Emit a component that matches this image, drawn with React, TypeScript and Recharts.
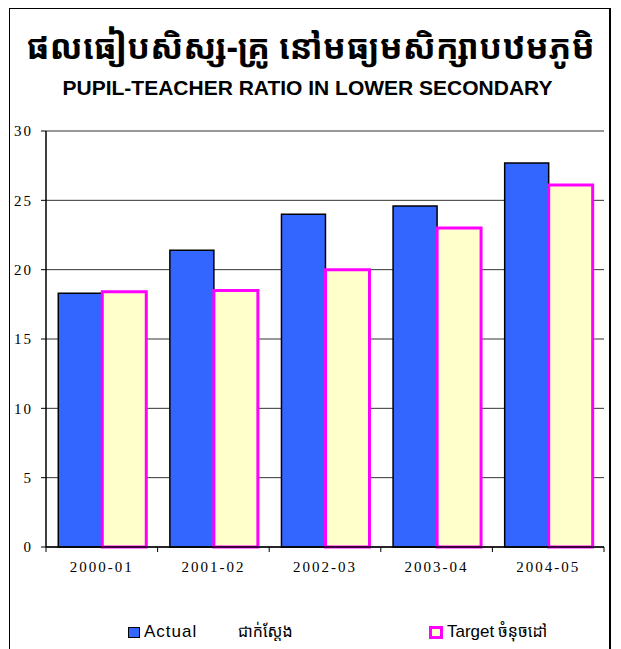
import React from 'react';
import { BarChart, Bar, XAxis, YAxis, CartesianGrid } from 'recharts';

const categories = ['2000-01', '2001-02', '2002-03', '2003-04', '2004-05'];
const actualValues = [18.3, 21.4, 24.0, 24.6, 27.7];
const targetValues = [18.4, 18.5, 20.0, 23.0, 26.1];
const yTicks = [0, 5, 10, 15, 20, 25, 30];
const titleKh = 'ផលធៀបសិស្ស-គ្រូ នៅមធ្យមសិក្សាបឋមភូមិ';
const titleEn = 'PUPIL-TEACHER RATIO IN LOWER SECONDARY';
const actualLabel = 'Actual';
const actualLabelKh = 'ជាក់ស្តែង';
const targetLabel = 'Target';
const targetLabelKh = 'ចំនុចដៅ';

const data = categories.map((c, i) => ({ cat: c, actual: actualValues[i], target: targetValues[i] }));

const CHART_W = 605;
const CHART_H = 641;
const BAND = 111.6;
const SERIF = '"Liberation Serif", "Times New Roman", serif';
const SANS = '"Liberation Sans", Arial, sans-serif';
const KHMER = '"Noto Sans Khmer", "Khmer OS", "Khmer OS System", "Noto Serif Khmer", sans-serif';

const XTick = (props: any) => {
  const { x, y, payload, index } = props;
  const last = index === categories.length - 1;
  return (
    <g>
      <line x1={x - BAND / 2} x2={x - BAND / 2} y1={y} y2={y + 5} stroke="#000" strokeWidth={1} />
      {last && <line x1={x + BAND / 2} x2={x + BAND / 2} y1={y} y2={y + 5} stroke="#000" strokeWidth={1} />}
      <text x={x} y={y + 25} textAnchor="middle" fontFamily={SERIF} fontSize={15} letterSpacing={2} fill="#000">
        {payload.value}
      </text>
    </g>
  );
};

export default function App() {
  return (
    <div style={{ position: 'relative', width: CHART_W, height: CHART_H }}>
      <div
        style={{
          position: 'absolute',
          left: 1,
          top: 0,
          width: 602,
          height: 660,
          borderLeft: '1.5px solid #000',
          borderTop: '1.5px solid #000',
          borderRight: '2px solid #000',
          boxSizing: 'border-box',
        }}
      />
      <div
        style={{
          position: 'absolute',
          left: 0,
          width: CHART_W,
          top: 16,
          textAlign: 'center',
          fontFamily: KHMER,
          fontSize: 34,
          fontWeight: 'bold',
          lineHeight: '44px',
          color: '#000',
        }}
      >
        {titleKh}
      </div>
      <div
        style={{
          position: 'absolute',
          left: 0,
          width: CHART_W - 6,
          top: 68,
          textAlign: 'center',
          fontFamily: SANS,
          fontSize: 21,
          fontWeight: 'bold',
          lineHeight: '24px',
          color: '#000',
        }}
      >
        {titleEn}
      </div>
      <div style={{ position: 'absolute', left: 0, top: 0 }}>
        <BarChart
          width={CHART_W}
          height={CHART_H}
          data={data}
          margin={{ top: 123, right: 9, bottom: 72, left: 8 }}
          barCategoryGap="11%"
          barGap={0}
        >
          <CartesianGrid vertical={false} stroke="#333" strokeWidth={1} />
          <XAxis
            dataKey="cat"
            xAxisId={0}
            axisLine={{ stroke: '#000', strokeWidth: 1.5 }}
            tickLine={false}
            tickSize={0}
            tickMargin={0}
            height={30}
            interval={0}
            tick={<XTick />}
          />
          <XAxis xAxisId="top" orientation="top" dataKey="cat" height={0} tick={false} tickLine={false} axisLine={{ stroke: '#999', strokeWidth: 1.5 }} />
          <YAxis
            yAxisId={0}
            domain={[0, 30]}
            ticks={yTicks}
            width={30}
            axisLine={{ stroke: '#000', strokeWidth: 1.5 }}
            tickLine={{ stroke: '#000' }}
            tickSize={5}
            tickMargin={8}
            tick={{ fontFamily: SERIF, fontSize: 15, fill: '#000', letterSpacing: 2 }}
          />
          <YAxis yAxisId="right" orientation="right" domain={[0, 30]} width={0} tick={false} tickLine={false} axisLine={{ stroke: '#999', strokeWidth: 1.5 }} />
          <Bar dataKey="actual" fill="#3366FF" stroke="#000" strokeWidth={1.5} isAnimationActive={false} />
          <Bar dataKey="target" fill="#FFFFCC" stroke="#FF00FF" strokeWidth={3} isAnimationActive={false} />
        </BarChart>
      </div>
      <div style={{ position: 'absolute', left: 0, top: 0, width: CHART_W, height: CHART_H, pointerEvents: 'none' }}>
        <div style={{ position: 'absolute', left: 120, top: 619, width: 10, height: 9, background: '#3366FF', border: '1px solid #000' }} />
        <div style={{ position: 'absolute', left: 136, top: 613, fontFamily: SANS, fontSize: 17, letterSpacing: 1, lineHeight: '22px' }}>
          {actualLabel}
        </div>
        <div style={{ position: 'absolute', left: 230, top: 610, fontFamily: KHMER, fontSize: 16, lineHeight: '26px' }}>
          {actualLabelKh}
        </div>
        <div style={{ position: 'absolute', left: 421, top: 618, width: 8, height: 7, background: '#FFFFCC', border: '3px solid #FF00FF' }} />
        <div style={{ position: 'absolute', left: 439, top: 613, fontFamily: SANS, fontSize: 17, lineHeight: '22px' }}>
          {targetLabel}
        </div>
        <div style={{ position: 'absolute', left: 490, top: 610, fontFamily: KHMER, fontSize: 16, lineHeight: '26px' }}>
          {targetLabelKh}
        </div>
      </div>
    </div>
  );
}
